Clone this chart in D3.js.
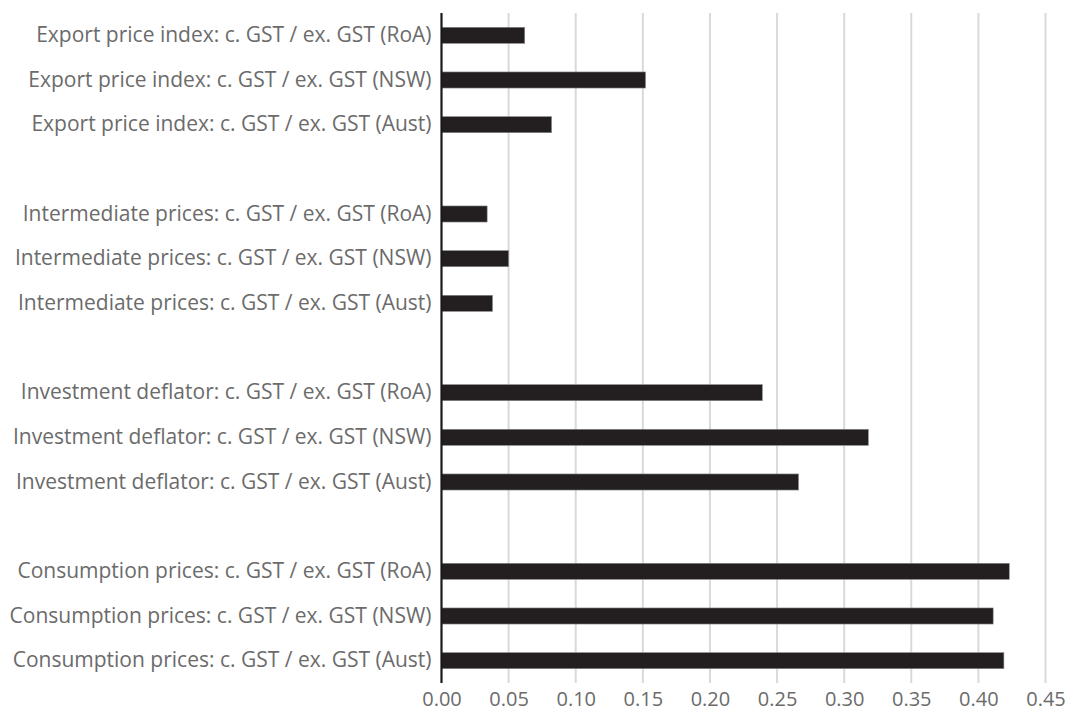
<!DOCTYPE html>
<html><head><meta charset="utf-8">
<script src="https://cdn.jsdelivr.net/npm/d3@7"></script>
<style>body{margin:0;background:#fff;} svg{display:block;}</style>
</head><body>
<svg id="chart" width="1069" height="714"></svg>
<script>
// Categories top-to-bottom ("" = empty gap slot)
const categories = [
  "Export price index: c. GST / ex. GST (RoA)",
  "Export price index: c. GST / ex. GST (NSW)",
  "Export price index: c. GST / ex. GST (Aust)",
  "",
  "Intermediate prices: c. GST / ex. GST (RoA)",
  "Intermediate prices: c. GST / ex. GST (NSW)",
  "Intermediate prices: c. GST / ex. GST (Aust)",
  " ",
  "Investment deflator: c. GST / ex. GST (RoA)",
  "Investment deflator: c. GST / ex. GST (NSW)",
  "Investment deflator: c. GST / ex. GST (Aust)",
  "  ",
  "Consumption prices: c. GST / ex. GST (RoA)",
  "Consumption prices: c. GST / ex. GST (NSW)",
  "Consumption prices: c. GST / ex. GST (Aust)"
];
const values = [0.062, 0.152, 0.082, null, 0.034, 0.050, 0.038, null, 0.239, 0.318, 0.266, null, 0.423, 0.411, 0.419];
const xTicks = [0, 0.05, 0.10, 0.15, 0.20, 0.25, 0.30, 0.35, 0.40, 0.45];

const svg = d3.select("#chart");
const margin = {left: 441.5, right: 23.5, top: 13, bottom: 31};
const W = 1069, H = 714;
const x = d3.scaleLinear().domain([0, 0.45]).range([margin.left, W - margin.right]);
const y = d3.scaleBand().domain(categories).range([margin.top, H - margin.bottom]).paddingInner(0.64).paddingOuter(0.32);

const font = "'Open Sans', sans-serif";
const textColor = "#6b6b6b";

// gridlines
svg.append("g").selectAll("line").data(xTicks.slice(1)).join("line")
  .attr("x1", d => x(d)).attr("x2", d => x(d))
  .attr("y1", margin.top).attr("y2", H - margin.bottom)
  .attr("stroke", "#d9d9d9").attr("stroke-width", 2);

// bars
const data = categories.map((c, i) => ({c, v: values[i]})).filter(d => d.v != null);
svg.append("g").selectAll("rect").data(data).join("rect")
  .attr("x", x(0)).attr("y", d => y(d.c))
  .attr("width", d => x(d.v) - x(0)).attr("height", y.bandwidth())
  .attr("fill", "#231f20").attr("stroke", "#8a8a8a").attr("stroke-width", 0.6);

// x axis
const xAxis = d3.axisBottom(x).tickValues(xTicks).tickFormat(d3.format(".2f")).tickSize(0).tickPadding(9);
const gx = svg.append("g").attr("transform", `translate(0,${H - margin.bottom})`).call(xAxis);
gx.select(".domain").remove();
gx.selectAll("text").attr("font-family", font).attr("font-size", 20).attr("fill", textColor);

// y axis
const yAxis = d3.axisLeft(y).tickSize(0).tickPadding(10);
const gy = svg.append("g").attr("transform", `translate(${margin.left},0)`).call(yAxis);
gy.select(".domain").remove();
gy.selectAll("text").attr("font-family", font).attr("font-size", 21).attr("fill", textColor);

svg.append("line").attr("x1", x(0)).attr("x2", x(0))
  .attr("y1", margin.top).attr("y2", H - margin.bottom)
  .attr("stroke", "#1a1a1a").attr("stroke-width", 2.2);
</script>
</body></html>
